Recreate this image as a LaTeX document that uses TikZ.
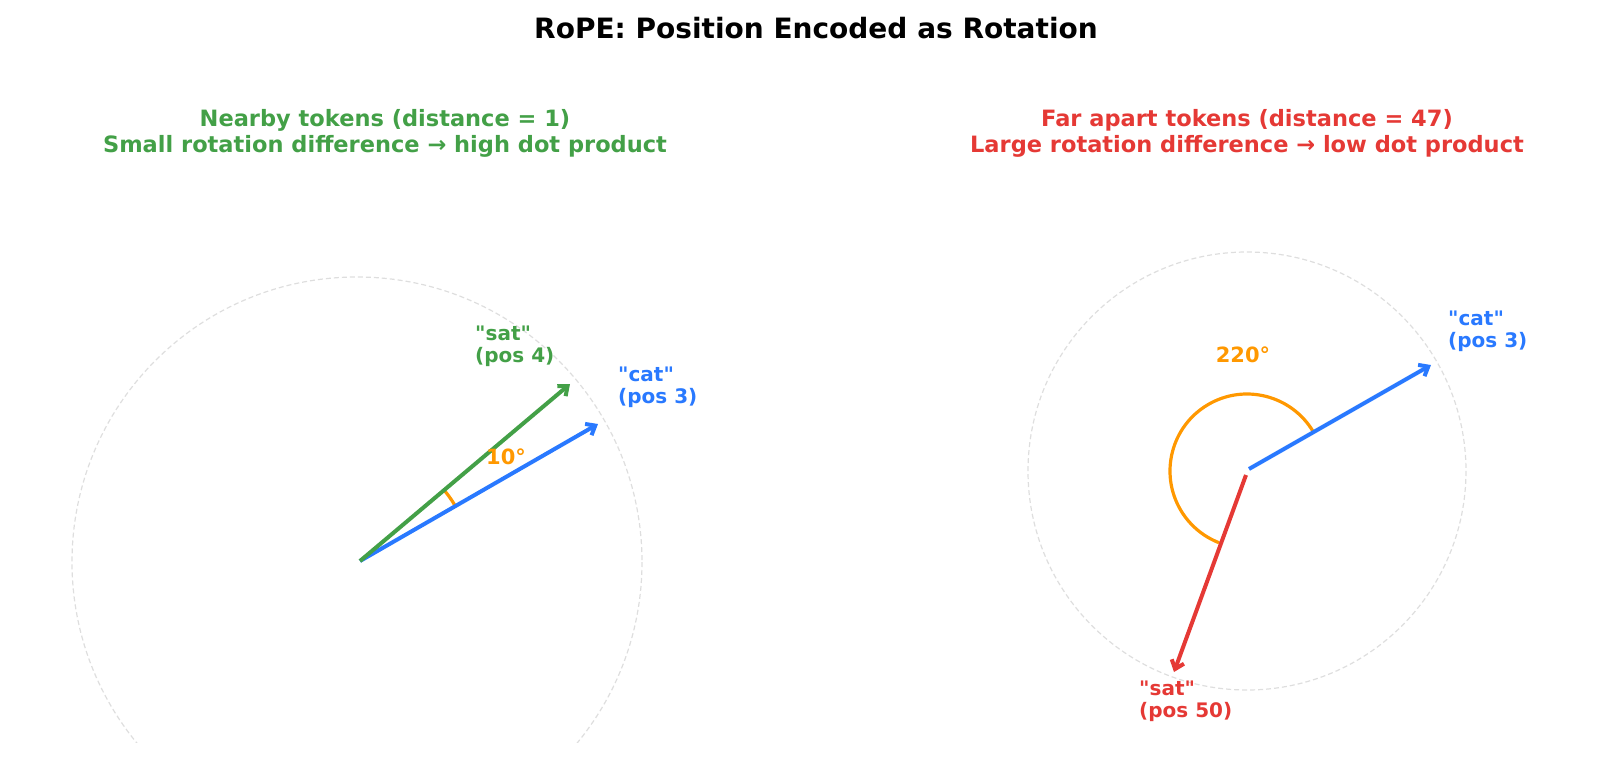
\documentclass[tikz,border=0pt]{standalone}
\usepackage{fontspec}
\setmainfont{DejaVu Sans}[Ligatures=TeXOff]
\usetikzlibrary{arrows.meta}
\definecolor{cg}{RGB}{67,160,71}
\definecolor{cb}{RGB}{41,121,255}
\definecolor{cr}{RGB}{229,57,53}
\definecolor{co}{RGB}{255,152,0}
\newcommand\dqt{\char34\relax}
\begin{document}
\begin{tikzpicture}[x=1pt,y=-1pt,
  vec/.style={line width=4pt,-{Straight Barb[length=8pt,width=13pt]}},
  circ/.style={draw=black!13,dashed,line width=1.2pt,dash pattern=on 5pt off 3pt},
  lab/.style={font=\bfseries\fontsize{20}{22}\selectfont,align=left,anchor=north west,inner sep=0pt},
  sub/.style={font=\bfseries\fontsize{22.5}{26}\selectfont,align=center},
  ang/.style={co,line width=3.2pt}]
\node[font=\bfseries\fontsize{28}{32}\selectfont] (title) at (816,28) {RoPE: Position Encoded as Rotation};
\node[sub,cg] (s1) at (385,133) {Nearby tokens (distance = 1)\\Small rotation difference → high dot product};
\node[sub,cr] (s2) at (1247,133) {Far apart tokens (distance = 47)\\Large rotation difference → low dot product};
% left
\begin{scope}
\clip (0,60) rectangle (800,742);
\draw[circ] (357,562) circle (285);
\end{scope}
\coordinate (o1) at (360,561);
\coordinate (c1) at (598,424);
\coordinate (g1) at (570,384);
\draw[ang] (o1) ++(-30:110) arc[start angle=-30,end angle=-40,radius=110];
\draw[vec,cb] (o1) -- (c1);
\draw[vec,cg] (o1) -- (g1);
\node[lab,cg] (ls) at (475,326) {\dqt sat\dqt\\(pos 4)};
\node[lab,cb] (lc) at (618,367) {\dqt cat\dqt\\(pos 3)};
\node[co,font=\bfseries\fontsize{21}{24}\selectfont] (a1) at (506,457) {10°};
% right
\draw[circ] (1247,471) circle (219);
\coordinate (o2) at (1247,471);
\coordinate (c2) at (1431,365);
\coordinate (r2) at (1174,672);
\draw[ang] (o2) ++(-30.6:77) arc[start angle=-30.6,end angle=-248.7,radius=77];
\draw[vec,cb] (1249,469) -- (c2);
\draw[vec,cr] (1246,475) -- (r2);
\node[lab,cb] (lc2) at (1448,311) {\dqt cat\dqt\\(pos 3)};
\node[lab,cr] (ls2) at (1139,681) {\dqt sat\dqt\\(pos 50)};
\node[co,font=\bfseries\fontsize{21}{24}\selectfont] (a2) at (1243,355) {220°};
\pgfresetboundingbox
\useasboundingbox (0,0) rectangle (1607,768);
\end{tikzpicture}
\end{document}
